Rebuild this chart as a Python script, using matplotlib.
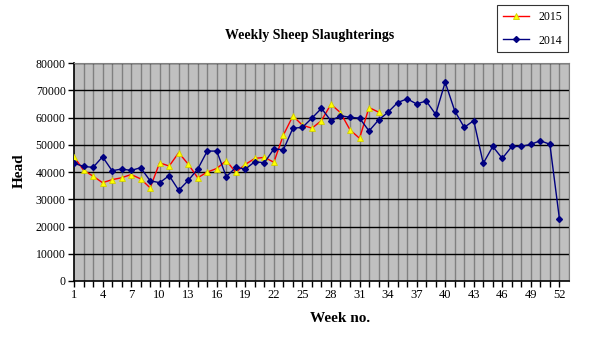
import matplotlib
matplotlib.use('Agg')
import matplotlib.pyplot as plt

weeks_2014 = list(range(1, 53))
head_2014 = [
    43200, 42100, 41700, 45600, 40500, 41100, 40600, 41600, 36800, 36100,
    38700, 33300, 36900, 41100, 47700, 47700, 38300, 41700, 41100, 43800,
    43400, 48500, 48200, 56100, 56400, 59800, 63400, 58800, 60700, 60100,
    59800, 55100, 59100, 62000, 65500, 66900, 65000, 66100, 61200, 73000,
    62500, 56400, 58900, 43200, 49400, 45000, 49400, 49400, 50200, 51500,
    50200, 22900,
]

weeks_2015 = list(range(1, 34))
head_2015 = [
    45600, 40700, 38500, 36100, 37200, 37900, 39100, 37500, 34200, 43400,
    42200, 47100, 42900, 37900, 40000, 41300, 44200, 39900, 42800, 45000,
    45400, 43600, 53600, 60600, 57200, 56100, 58900, 64900, 61800, 55500,
    52400, 63700, 62000,
]

x_ticks = list(range(1, 53, 3))
y_ticks = list(range(0, 80001, 10000))

plt.rcParams['font.family'] = ['Liberation Serif', 'DejaVu Serif']

fig = plt.figure(figsize=(5.92, 3.56), dpi=100)
ax = fig.add_axes([0.125, 0.2107, 0.836, 0.612])
ax.set_facecolor('#c0c0c0')

# gridlines: vertical gray at each week, horizontal black
for w in range(2, 54):
    ax.axvline(w, color='#808080', lw=1.0, zorder=1)
for v in y_ticks[1:]:
    ax.axhline(v, color='black', lw=1.0, zorder=1)

l15, = ax.plot(weeks_2015, head_2015, color='#ff0000', lw=1.0,
               marker='^', markersize=4.2, markerfacecolor='#ffff00',
               markeredgecolor='#d0d000', markeredgewidth=0.6, zorder=3,
               label='2015')
l14, = ax.plot(weeks_2014, head_2014, color='#000080', lw=1.0,
               marker='D', markersize=3.0, markerfacecolor='#000080',
               markeredgecolor='#000080', zorder=4, label='2014')

ax.set_xlim(1, 53)
ax.set_ylim(0, 80000)
ax.set_xticks(range(1, 53), minor=True)
ax.set_xticks(x_ticks)
ax.set_xticklabels([str(t) for t in x_ticks], fontsize=9)
ax.set_yticks(y_ticks)
ax.set_yticklabels([str(t) for t in y_ticks], fontsize=8.5)
ax.tick_params(axis='x', which='both', direction='out', length=4, width=1, pad=2)
ax.tick_params(axis='y', direction='out', length=4, width=1, pad=2)

for side in ['top', 'right']:
    ax.spines[side].set_color('#808080')
for side in ['left', 'bottom']:
    ax.spines[side].set_color('black')
    ax.spines[side].set_linewidth(1.2)

fig.text(0.523, 0.9, 'Weekly Sheep Slaughterings', ha='center', va='center',
         fontsize=10, fontweight='bold')
fig.text(0.574, 0.105, 'Week no.', ha='center', va='center',
         fontsize=11, fontweight='bold')
fig.text(0.032, 0.52, 'Head', ha='center', va='center', rotation=90,
         fontsize=11, fontweight='bold')

leg = fig.legend(handles=[l15, l14], loc='upper left',
                 bbox_to_anchor=(0.830, 1.003), frameon=True, fancybox=False,
                 fontsize=8.5, handlelength=2.2, labelspacing=1.0,
                 borderpad=0.5)
leg.get_frame().set_edgecolor('black')
leg.get_frame().set_linewidth(0.8)

fig.savefig('out.png', dpi=100)
